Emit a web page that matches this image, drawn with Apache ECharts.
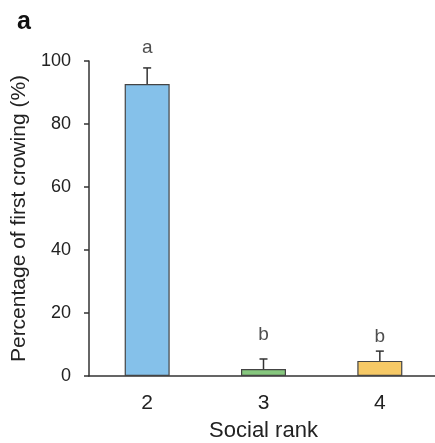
<!DOCTYPE html>
<html>
<head>
<meta charset="utf-8">
<script src="https://cdn.jsdelivr.net/npm/echarts@6/dist/echarts.min.js"></script>
<style>
  html, body { margin: 0; padding: 0; background: #fff; }
  #chart { width: 435px; height: 443px; }
</style>
</head>
<body>
<div id="chart"></div>
<script>
// social rank groups and values
const ranks = ['2', '3', '4']
const percent = [92.7, 2.2, 4.8]
const errUp = [5.1, 3.2, 3.1]
const letters = ['a', 'b', 'b']
const letterY = [104.3, 13, 12.4]
const yTicks = [0, 20, 40, 60, 80, 100]

const barColors = ['#85c1ea', '#86c77e', '#f6c966']
const font = 'Liberation Sans, Arial, sans-serif'

const chart = echarts.init(document.getElementById('chart'))

const option = {
  animation: false,
  textStyle: { fontFamily: font },
  graphic: [
    {
      type: 'text',
      left: 17,
      top: 10,
      style: { text: 'a', font: 'bold 25px ' + font, fill: '#111' }
    }
  ],
  grid: { left: 89, right: -3, top: 61, bottom: 67, outerBoundsMode: 'none' },
  xAxis: {
    type: 'category',
    data: ranks,
    name: 'Social rank',
    nameLocation: 'middle',
    nameGap: 44,
    nameTextStyle: { fontSize: 22, color: '#222', fontFamily: font },
    axisLine: { lineStyle: { color: '#333', width: 1.5 } },
    axisTick: { show: false },
    axisLabel: { fontSize: 21, color: '#222', margin: 17, fontFamily: font }
  },
  yAxis: {
    type: 'value',
    min: 0,
    max: 100,
    interval: 20,
    name: 'Percentage of first crowing (%)',
    nameLocation: 'middle',
    nameGap: 53,
    nameTextStyle: { fontSize: 21, color: '#222', fontFamily: font },
    axisLine: { show: true, lineStyle: { color: '#333', width: 1.5 } },
    axisTick: { show: true, length: 5, lineStyle: { color: '#333', width: 1.5 } },
    splitLine: { show: false },
    axisLabel: {
      fontSize: 18, color: '#222', margin: 18, fontFamily: font,
      formatter: v => (yTicks.indexOf(v) >= 0 ? String(v) : '')
    }
  },
  series: [
    {
      type: 'bar',
      barWidth: 45,
      data: percent.map((v, i) => ({
        value: v,
        itemStyle: { color: barColors[i], borderColor: '#444', borderWidth: 1.2 }
      })),
      z: 2
    },
    {
      // upper error bars with a small cap
      type: 'custom',
      data: percent.map((v, i) => [i, v, v + errUp[i]]),
      renderItem: function (params, api) {
        const lo = api.coord([api.value(0), api.value(1)])
        const hi = api.coord([api.value(0), api.value(2)])
        const cap = 4
        return {
          type: 'group',
          children: [
            { type: 'line', shape: { x1: lo[0], y1: lo[1], x2: hi[0], y2: hi[1] },
              style: { stroke: '#333', lineWidth: 1.5 } },
            { type: 'line', shape: { x1: hi[0] - cap, y1: hi[1], x2: hi[0] + cap, y2: hi[1] },
              style: { stroke: '#333', lineWidth: 1.5 } }
          ]
        }
      },
      z: 3
    },
    {
      // significance letters
      type: 'scatter',
      symbolSize: 0,
      clip: false,
      data: letterY.map((v, i) => [i, v]),
      label: {
        show: true,
        position: 'inside',
        formatter: p => letters[p.dataIndex],
        fontSize: 19,
        color: '#222',
        fontFamily: font
      },
      z: 4
    }
  ]
}

chart.setOption(option)
</script>
</body>
</html>
